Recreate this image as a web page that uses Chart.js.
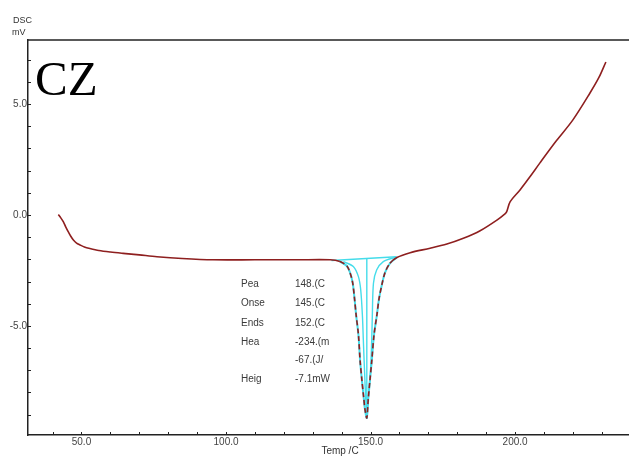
<!DOCTYPE html>
<html>
<head>
<meta charset="utf-8">
<script src="https://cdn.jsdelivr.net/npm/chart.js@4/dist/chart.umd.min.js"></script>
<style>
  html, body { margin: 0; padding: 0; background: #fff; }
  #wrap { width: 629px; height: 457px; }
</style>
</head>
<body>
<div id="wrap"><canvas id="dsc" width="629" height="457"></canvas></div>
<script>
// DSC curve, temperature (C) vs heat flow (mV)
const tempC = [42.0, 42.8, 43.7, 44.5, 45.4, 46.3, 47.2, 48.3, 49.5, 51.0, 52.9, 56.0, 60.0, 64.4,
  70.0, 76.1, 84.8, 95.5, 110, 125, 136, 139.4, 141.8, 142.9, 143.8, 144.4, 145.0, 145.8, 146.4,
  147.0, 147.6, 148.1, 148.7, 149.2, 149.8, 150.4, 151.2, 152.2, 152.9, 153.9, 155.0, 156.7, 159.1,
  163.7, 170.6, 176.4, 182.1, 187.9, 193.7, 196.5, 197.1, 198.3, 201.7, 205, 208.6, 214, 220,
  225.9, 229, 231.4];
const dscMv = [0.02, -0.12, -0.30, -0.52, -0.75, -0.96, -1.13, -1.27, -1.35, -1.44, -1.51, -1.60, -1.67, -1.73,
  -1.80, -1.88, -1.96, -2.02, -2.02, -2.02, -2.02, -2.10, -2.30, -2.60, -3.05, -3.70, -4.50, -5.40, -6.60,
  -7.44, -8.20, -8.80, -9.15, -8.30, -7.44, -6.60, -5.40, -4.50, -3.80, -3.15, -2.60, -2.18, -1.92,
  -1.70, -1.50, -1.31, -1.05, -0.71, -0.23, 0.05, 0.15, 0.60, 1.13, 1.70, 2.35, 3.30, 4.29,
  5.50, 6.20, 6.90];

// evaluation lines (cyan)
const baselineT = [136.5, 159.0];
const baselineV = [-2.05, -1.88];
const innerLeftT = [140.6, 144.1, 145.8, 146.6, 147.2, 147.5, 147.9, 148.3, 148.7];
const innerLeftV = [-2.10, -2.33, -2.78, -3.38, -4.59, -5.64, -7.0, -8.2, -9.17];
const innerRightT = [158.5, 154.4, 152.1, 151.0, 150.6, 150.4, 150.0, 149.2, 148.7];
const innerRightV = [-1.91, -2.10, -2.48, -3.08, -4.59, -5.64, -7.0, -8.2, -9.17];
const peakLineT = [148.7, 148.7];
const peakLineV = [-1.98, -9.17];

// result box
const resultNames = ["Pea", "Onse", "Ends", "Hea", "", "Heig"];
const resultValues = ["148.(C", "145.(C", "152.(C", "-234.(m", "-67.(J/", "-7.1mW"];

const xMajor = [50, 100, 150, 200];
const yMajor = [5, 0, -5];

const pts = (xs, ys) => xs.map((x, i) => ({ x: x, y: ys[i] }));
const inPeak = (a, b) => a >= 139 && b <= 159;

const red = "#8e1f1f";
const cyan = "#45dcea";

// kleine Striche nach innen + Rahmen oben
const frame = {
  id: "frame",
  afterDraw(chart) {
    const ctx = chart.ctx;
    const a = chart.chartArea;
    const xs = chart.scales.x, ys = chart.scales.y;
    ctx.save();
    ctx.strokeStyle = "#222";
    ctx.lineWidth = 1.5;
    ctx.beginPath();
    ctx.moveTo(a.left, a.top);
    ctx.lineTo(a.right, a.top);
    ctx.stroke();
    ctx.lineWidth = 1;
    ctx.beginPath();
    for (let t = 40; t <= xs.max; t += 10) {
      const px = Math.round(xs.getPixelForValue(t)) + 0.5;
      ctx.moveTo(px, a.bottom);
      ctx.lineTo(px, a.bottom - 3);
    }
    for (let v = -9; v <= ys.max; v += 1) {
      const py = Math.round(ys.getPixelForValue(v)) + 0.5;
      ctx.moveTo(a.left, py);
      ctx.lineTo(a.left + 3, py);
    }
    ctx.stroke();

    ctx.fillStyle = "#000";
    ctx.font = "49px 'Liberation Serif'";
    ctx.textBaseline = "alphabetic";
    ctx.fillText("CZ", 35, 95);

    ctx.fillStyle = "#333";
    ctx.font = "9px 'Liberation Sans'";
    ctx.textBaseline = "middle";
    ctx.fillText("DSC", 13, 21);
    ctx.fillText("mV", 12, 33);

    ctx.font = "10px 'Liberation Sans'";
    ctx.textAlign = "center";
    ctx.fillText("Temp /C", 340, 451);

    ctx.textAlign = "left";
    ctx.fillStyle = "#3a3a3a";
    const rowY = [284, 303, 323, 342, 360, 379];
    resultNames.forEach((n, i) => {
      ctx.fillText(n, 241, rowY[i]);
      ctx.fillText(resultValues[i], 295, rowY[i]);
    });
    ctx.restore();
  }
};

new Chart(document.getElementById("dsc"), {
  type: "line",
  data: {
    datasets: [
      {
        data: pts(tempC, dscMv),
        borderColor: red,
        borderWidth: 1.6,
        pointRadius: 0,
        tension: 0.3,
        segment: {
          borderDash: c => inPeak(c.p0.parsed.x, c.p1.parsed.x) ? [5, 3] : undefined
        }
      },
      {
        data: pts(tempC, dscMv).filter(p => p.x >= 139 && p.x <= 159.1),
        borderColor: cyan,
        borderWidth: 2,
        pointRadius: 0,
        tension: 0.3
      },
      { data: pts(innerLeftT, innerLeftV), borderColor: cyan, borderWidth: 1.4, pointRadius: 0, tension: 0.3 },
      { data: pts(innerRightT, innerRightV), borderColor: cyan, borderWidth: 1.4, pointRadius: 0, tension: 0.3 },
      { data: pts(baselineT, baselineV), borderColor: cyan, borderWidth: 1.4, pointRadius: 0 },
      { data: pts(peakLineT, peakLineV), borderColor: cyan, borderWidth: 1.4, pointRadius: 0 }
    ]
  },
  options: {
    responsive: false,
    animation: false,
    layout: { padding: { top: 40, right: 0, left: 0, bottom: 0 } },
    plugins: { legend: { display: false }, tooltip: { enabled: false } },
    scales: {
      x: {
        type: "linear",
        min: 31.5,
        max: 239.4,
        afterFit: s => { s.height = 22; },
        border: { display: true, color: "#222", width: 1.5 },
        grid: { display: false, drawTicks: false },
        afterBuildTicks: s => { s.ticks = xMajor.map(v => ({ value: v })); },
        ticks: {
          padding: 1,
          maxRotation: 0,
          autoSkip: false,
          color: "#444",
          font: { family: "Liberation Sans", size: 10 },
          callback: v => v.toFixed(1)
        }
      },
      y: {
        min: -9.92,
        max: 7.89,
        afterFit: s => { s.width = 28; },
        border: { display: true, color: "#222", width: 1.5 },
        grid: { display: false, drawTicks: false },
        afterBuildTicks: s => { s.ticks = yMajor.map(v => ({ value: v })); },
        ticks: {
          padding: 1,
          autoSkip: false,
          color: "#444",
          font: { family: "Liberation Sans", size: 10 },
          callback: v => v.toFixed(1)
        }
      }
    }
  },
  plugins: [frame]
});
</script>
</body>
</html>
